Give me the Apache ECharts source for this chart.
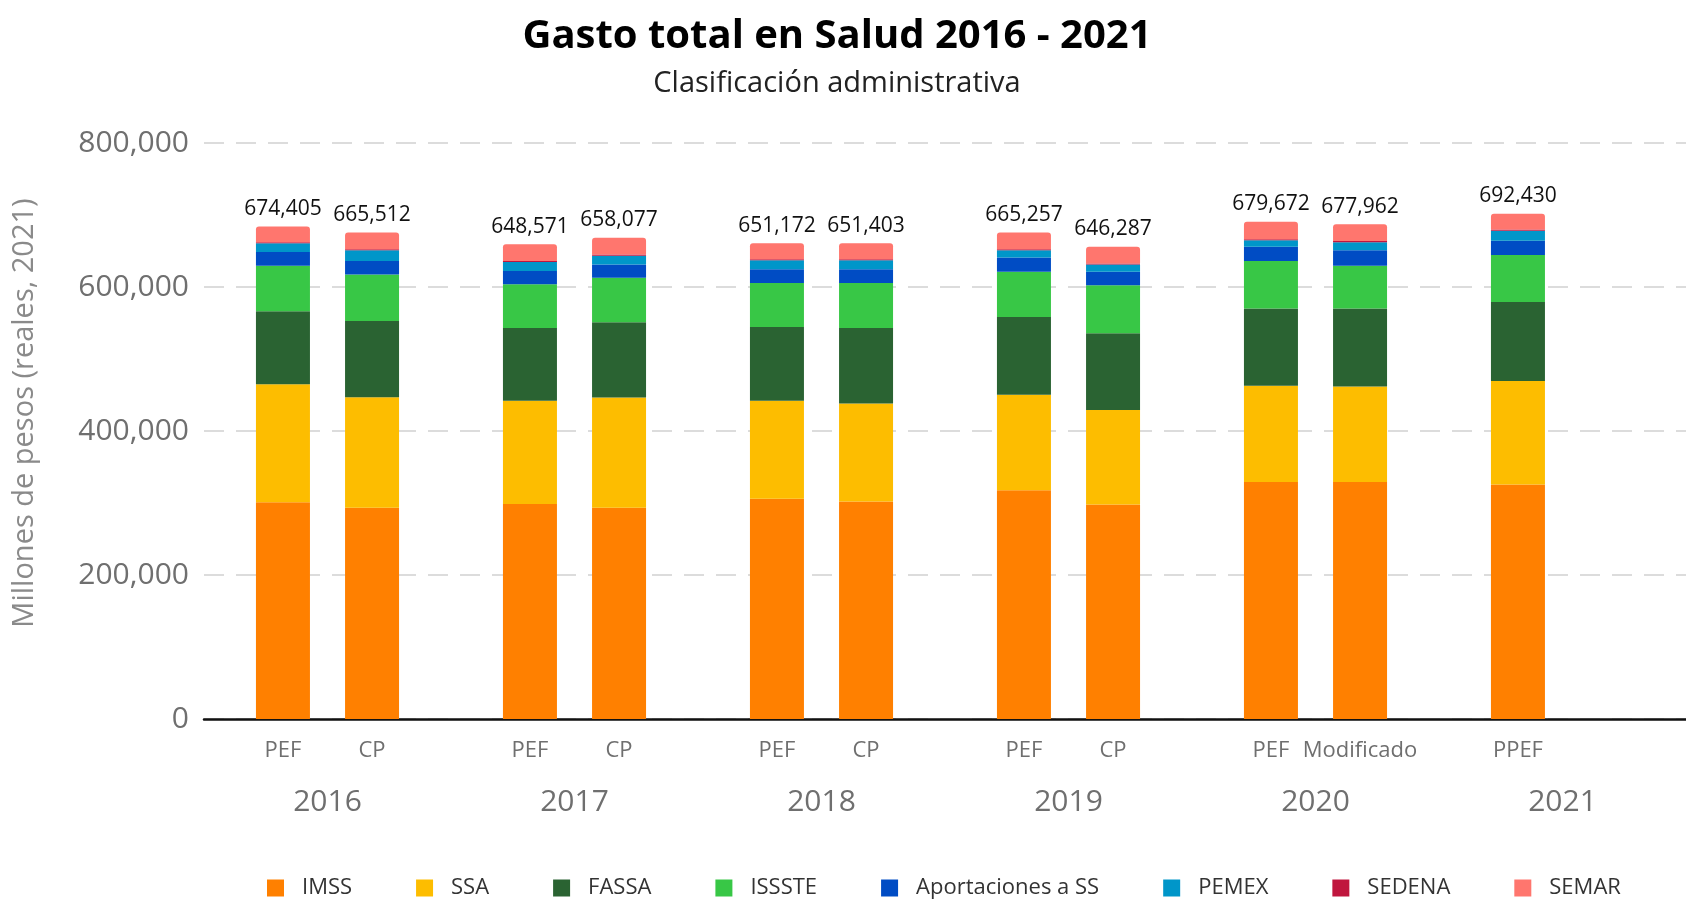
<!DOCTYPE html>
<html>
<head>
<meta charset="utf-8">
<script src="https://cdn.jsdelivr.net/npm/echarts@6/dist/echarts.min.js"></script>
<style>
  html, body { margin: 0; padding: 0; background: #fff; }
  #chart { width: 1686px; height: 911px; }
</style>
</head>
<body>
<div id="chart"></div>
<script>
// años (categorías del eje x)
const years = ['2016', '2017', '2018', '2019', '2020', '2021'];
// etiquetas de cada columna dentro del año
const firstLabels = ['PEF', 'PEF', 'PEF', 'PEF', 'PEF', 'PPEF'];
const secondLabels = ['CP', 'CP', 'CP', 'CP', 'Modificado', ''];
// totales anotados arriba de cada barra
const firstTotals = ['674,405', '648,571', '651,172', '665,257', '679,672', '692,430'];
const secondTotals = ['665,512', '658,077', '651,403', '646,287', '677,962', ''];

const agencies = ['IMSS', 'SSA', 'FASSA', 'ISSSTE', 'Aportaciones a SS', 'PEMEX', 'SEDENA', 'SEMAR'];
const colors = ['#ff8000', '#fdbd00', '#2a6332', '#38c746', '#004cc4', '#0096c9', '#c0163e', '#ff766e'];

// millones de pesos, columna PEF / PPEF
const imssFirst = [301000, 298500, 305900, 317800, 329200, 325700];
const ssaFirst = [163800, 143500, 136100, 132700, 133600, 143600];
const fassaFirst = [101500, 101000, 102500, 107900, 107400, 109900];
const isssteFirst = [63300, 60900, 60900, 62800, 65900, 65300];
const aportFirst = [18900, 18300, 19300, 19800, 19800, 19800];
const pemexFirst = [12300, 12400, 12400, 9900, 8900, 13900];
const sedenaFirst = [1500, 1500, 1500, 1500, 1500, 1500];
const semarFirst = [21800, 23200, 22200, 23300, 24200, 22200];

// columna CP / Modificado
const imssSecond = [293500, 293500, 302000, 298000, 329200, null];
const ssaSecond = [153500, 153000, 136100, 131200, 132600, null];
const fassaSecond = [105900, 104400, 104900, 106400, 108400, null];
const isssteSecond = [64400, 61900, 62400, 66800, 59400, null];
const aportSecond = [18800, 18300, 19300, 18800, 21300, null];
const pemexSecond = [14800, 12400, 12400, 9900, 11400, null];
const sedenaSecond = [1500, 1500, 1500, 1500, 1500, null];
const semarSecond = [23300, 23300, 22200, 23300, 23300, null];

const firstData = [imssFirst, ssaFirst, fassaFirst, isssteFirst, aportFirst, pemexFirst, sedenaFirst, semarFirst];
const secondData = [imssSecond, ssaSecond, fassaSecond, isssteSecond, aportSecond, pemexSecond, sedenaSecond, semarSecond];

const font = 'Open Sans';

function makeSeries(stack, data, subLabels, totals) {
  return agencies.map((name, i) => {
    const s = {
      name: name,
      type: 'bar',
      stack: stack,
      barWidth: 54,
      barGap: '65%',
      data: data[i],
      itemStyle: { color: colors[i] }
    };
    if (i === 0) {
      // etiqueta PEF / CP debajo de cada columna
      s.label = {
        show: true,
        position: 'bottom',
        distance: 21,
        fontFamily: font,
        fontSize: 22,
        color: '#6f6f6f',
        formatter: p => subLabels[p.dataIndex]
      };
    }
    if (i === agencies.length - 1) {
      s.itemStyle.borderRadius = [3, 3, 0, 0];
      s.label = {
        show: true,
        position: 'top',
        distance: 7,
        fontFamily: font,
        fontSize: 21,
        color: '#111',
        formatter: p => totals[p.dataIndex]
      };
    }
    return s;
  });
}

const chart = echarts.init(document.getElementById('chart'));
chart.setOption({
  animation: false,
  textStyle: { fontFamily: font },
  title: {
    text: 'Gasto total en Salud 2016 - 2021',
    subtext: 'Clasificación administrativa',
    left: 832,
    textAlign: 'center',
    top: 12,
    itemGap: 12,
    textStyle: { fontFamily: font, fontSize: 40, fontWeight: 'bold', color: '#000' },
    subtextStyle: { fontFamily: font, fontSize: 29, color: '#222' }
  },
  legend: {
    data: agencies,
    left: 262,
    top: 872,
    itemWidth: 17,
    itemHeight: 17,
    itemGap: 64,
    icon: 'rect',
    textStyle: { fontFamily: font, fontSize: 22, color: '#333', padding: [0, 0, 0, 13] }
  },
  grid: { left: 204, right: 0, top: 143, bottom: 192 },
  xAxis: {
    type: 'category',
    data: years,
    axisLine: { lineStyle: { color: '#111', width: 2.5 } },
    axisTick: { show: false },
    axisLabel: { fontFamily: font, fontSize: 30, color: '#6f6f6f', margin: 68 }
  },
  yAxis: {
    type: 'value',
    min: 0,
    max: 800000,
    interval: 200000,
    name: 'Millones de pesos (reales, 2021)',
    nameLocation: 'middle',
    nameGap: 165,
    nameTextStyle: { fontFamily: font, fontSize: 29, color: '#8a8a8a', padding: [0, 0, 0, 36] },
    axisLabel: {
      fontFamily: font,
      fontSize: 30,
      color: '#6f6f6f',
      margin: 15,
      formatter: v => v.toLocaleString('en-US')
    },
    splitLine: { lineStyle: { color: '#dcdcdc', width: 2, type: [20, 12] } }
  },
  series: [
    ...makeSeries('first', firstData, firstLabels, firstTotals),
    ...makeSeries('second', secondData, secondLabels, secondTotals)
  ]
});
</script>
</body>
</html>
